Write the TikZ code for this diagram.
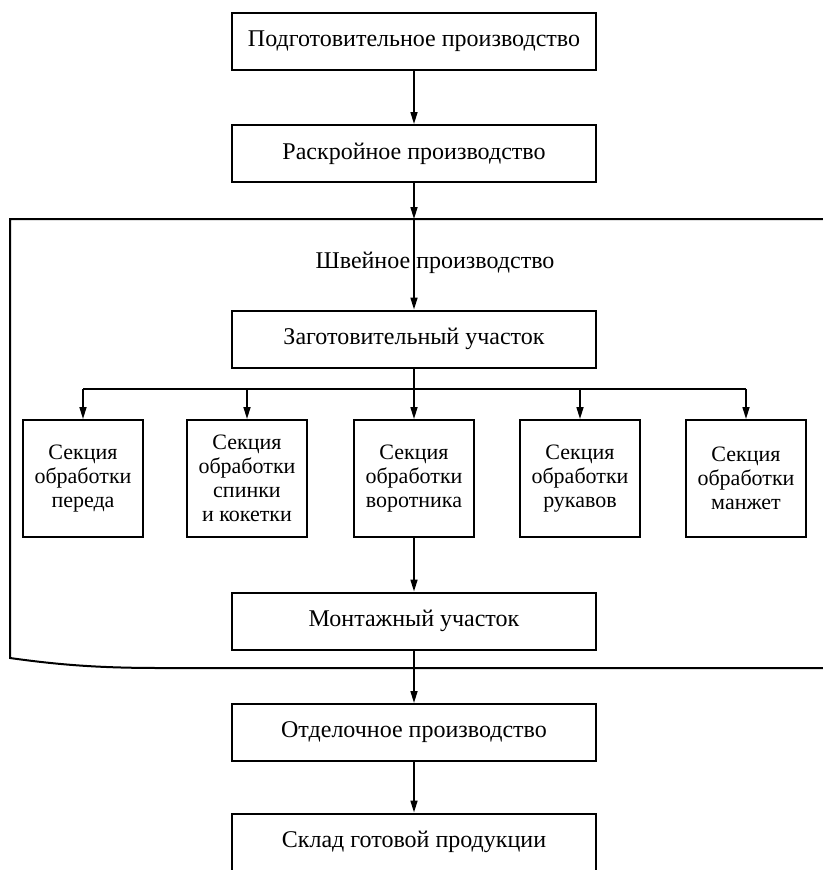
\documentclass[tikz,border=0pt]{standalone}
\usepackage{fontspec}
\setmainfont{Liberation Serif}
\usetikzlibrary{arrows.meta}
\begin{document}
\begin{tikzpicture}[x={(1pt,0)},y={(0,-1pt)},
  font=\fontsize{22}{24}\selectfont,
  wide/.style={draw,line width=2pt,minimum width=364pt,minimum height=57pt,inner sep=0pt,font=\fontsize{24}{28}\selectfont},
  sect/.style={draw,line width=2pt,minimum width=120pt,minimum height=117pt,inner sep=0pt,align=center},
  conn/.style={line width=1.6pt},
  arr/.style={conn,-{Triangle[length=12pt,width=7pt]}},
  frame/.style={line width=2pt}]
\useasboundingbox (0,0) rectangle (822,870);
% main boxes
\node[wide] (podg) at (414,41.5) {Подготовительное производство};
\node[wide] (rask) at (414,153.5) {Раскройное производство};
\node[wide] (zag)  at (414,339) {Заготовительный участок};
\node[wide] (mont) at (414,621) {Монтажный участок};
\node[wide] (otd)  at (414,732.5) {Отделочное производство};
\node[wide] (skl)  at (414,842) {Склад готовой продукции};
% frame
\coordinate (ftop) at (414,219);
\draw[frame] (830,219) -- (10,219) -- (10,658) .. controls (60,665) and (100,668) .. (160,668) -- (830,668);
\node[font=\fontsize{24}{28}\selectfont] (shv) at (435,263) {Швейное производство};
% sections
\node[sect] (s1) at (83,478.5) {Секция\\обработки\\переда};
\node[sect] (s2) at (247,478.5) {Секция\\обработки\\спинки\\и кокетки};
\node[sect] (s3) at (414,478.5) {Секция\\обработки\\воротника};
\node[sect] (s4) at (580,478.5) {Секция\\обработки\\рукавов};
\node[sect] (s5) at (746,478.5) {Секция\\обработки\\манжет};
\coordinate (b1) at (83,389);
\coordinate (b2) at (247,389);
\coordinate (b3) at (414,389);
\coordinate (b4) at (580,389);
\coordinate (b5) at (746,389);
% connectors
\draw[arr] (podg) -- (rask);
\draw[arr] (rask) -- (ftop);
\draw[arr] (ftop) -- (zag);
\draw[conn] (zag) -- (b3);
\draw[conn] (b1) -- (b5);
\foreach \i in {1,...,5} {\draw[arr] (b\i) -- (s\i);}
\draw[arr] (s3) -- (mont);
\draw[arr] (mont) -- (otd);
\draw[arr] (otd) -- (skl);
\end{tikzpicture}
\end{document}
